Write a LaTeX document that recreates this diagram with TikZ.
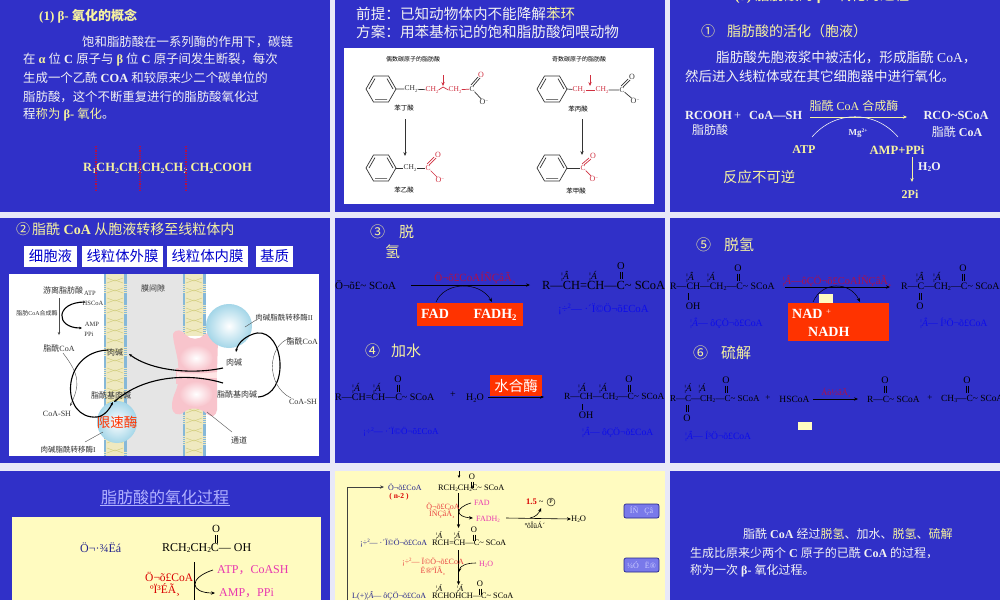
\documentclass[tikz,border=0pt]{standalone}
\usepackage{fontspec}
\usetikzlibrary{arrows.meta}
\setmainfont{Liberation Serif}
\newfontfamily\cjk{Noto Sans CJK SC}
\newcommand\Z[1]{{\cjk\mdseries #1}}
\newcommand\ZB[1]{{\cjk\bfseries #1}}
\newcommand\sbs[1]{\raisebox{-0.3ex}{\scalebox{0.62}{#1}}}
\newcommand\sps[1]{\raisebox{0.7ex}{\scalebox{0.62}{#1}}}
\newcommand\tld{\char126 }
\definecolor{panelblue}{HTML}{3030C8}
\definecolor{pagebg}{HTML}{E8E8F8}
\definecolor{wht}{HTML}{F2F2F2}
\definecolor{ylw}{HTML}{F6F2A0}
\definecolor{cream}{HTML}{FFFBC0}
\definecolor{redbox}{HTML}{FF3300}
\definecolor{dkred}{HTML}{B01048}
\definecolor{bluet}{HTML}{0C0CEA}
\definecolor{navy}{HTML}{24248C}
\definecolor{mag}{HTML}{E838B0}
\definecolor{salmon}{HTML}{E84040}
\definecolor{chemred}{HTML}{D03040}
\definecolor{grayt}{HTML}{404040}
\definecolor{ballblue}{HTML}{A4D6E8}
\definecolor{membr}{HTML}{EFE9C0}
\definecolor{membe}{HTML}{86B8D8}
\definecolor{chanpink}{HTML}{F8C4CC}
\tikzset{
  t/.style={inner sep=0pt,font=\fontsize{#1}{#1}\selectfont},
  b/.style={inner sep=0pt,font=\fontsize{#1}{#1}\selectfont\bfseries},
  ar/.style={-{Stealth[length=4pt,width=3.4pt]}},
  smallar/.style={-{Stealth[length=3pt,width=2.6pt]}},
  chem/.style={line width=0.7pt,draw=black!80},
  thickc/.style={line width=1.1pt,draw=black},
  thinc/.style={line width=0.4pt,draw=black!70},
  btn/.style={draw=navy,fill=blue!35!panelblue!60!white,rounded corners=2pt,line width=0.7pt,text=blue!20!white,inner sep=0pt,minimum width=35pt,minimum height=14pt,font=\fontsize{8}{8}\selectfont},
  redlab/.style={fill=redbox,inner sep=0pt},
}
\newcommand\benz[2]{\begin{scope}[shift={(#1,#2)}]
  \draw[chem] (0:15)--(60:15)--(120:15)--(180:15)--(240:15)--(300:15)--cycle;
  \draw[chem] (60:12)--(120:12) (180:12)--(240:12) (300:12)--(0:12);
\end{scope}}
\newcommand\carb[4]{% x y size colour : O above a double bond
  \node[t=#3,text=#4,anchor=center] at (#1,#2) {O};
  \draw[#4,line width=0.5pt] (#1-1.2,#2+#3*0.55) -- (#1-1.2,#2+#3*1.25) (#1+1.2,#2+#3*0.55) -- (#1+1.2,#2+#3*1.25);
}
\begin{document}
\begin{tikzpicture}[x=1pt,y=-1pt]
\useasboundingbox (0,0) rectangle (1000,600);
\fill[pagebg] (0,0) rectangle (1000,600);
% panels
\fill[panelblue] (0,0) rectangle (330,212);
\fill[panelblue] (335,0) rectangle (665,212);
\fill[panelblue] (670,0) rectangle (1000,212);
\fill[panelblue] (0,218) rectangle (330,463);
\fill[panelblue] (335,218) rectangle (665,463);
\fill[panelblue] (670,218) rectangle (1000,463);
\fill[panelblue] (0,471) rectangle (330,600);
\fill[cream] (335,471) rectangle (665,600);
\fill[panelblue] (670,471) rectangle (1000,600);

% ---------- panel 1
\node[b=13,text=ylw,anchor=west] (p1title) at (39,16) {(1) β- \ZB{氧化的概念}};
\node[b=12.4,text=wht,anchor=west] (p1a) at (82,42) {\Z{饱和脂肪酸在一系列酶的作用下，碳链}};
\node[b=12.4,text=wht,anchor=west] (p1b) at (23,60) {\Z{在} \textcolor{ylw}{α} \Z{位} C \Z{原子与} \textcolor{ylw}{β} \Z{位} C \Z{原子间发生断裂，每次}};
\node[b=12.4,text=wht,anchor=west] (p1c) at (23,78) {\Z{生成一个乙酰} COA \Z{和较原来少二个碳单位的}};
\node[b=12.4,text=wht,anchor=west] (p1d) at (23,97) {\Z{脂肪酸，这个不断重复进行的脂肪酸氧化过}};
\node[b=12.4,text=wht,anchor=west] (p1e) at (23,115) {\Z{程}\textcolor{ylw}{\Z{称为} β- \Z{氧化}}\Z{。}};
\node[b=12.6,text=ylw,anchor=west] (p1f) at (83,168) {R\sbs{1}CH\sbs{2}CH\sbs{2}CH\sbs{2}CH\sbs{2} CH\sbs{2}COOH};
\foreach \xx in {96,140,186}
  \draw[dkred,line width=1.1pt,dash pattern=on 1.1pt off 1.1pt] (\xx,146) -- (\xx,192);

% ---------- panel 2
\node[t=14.6,text=wht,anchor=west] (p2a) at (356,14) {\Z{前提：已知动物体内不能降解\textcolor{ylw}{苯环}}};
\node[t=14.6,text=wht,anchor=west] (p2b) at (356,32) {\Z{方案：用苯基标记的饱和脂肪酸饲喂动物}};
\fill[white] (344,48) rectangle (654,204);
\node[t=6,anchor=center] (ev) at (413,59) {\Z{偶数碳原子的脂肪酸}};
\node[t=6,anchor=center] (od) at (579,59) {\Z{奇数碳原子的脂肪酸}};
\benz{381}{89}\benz{381}{168}\benz{552}{89}\benz{552}{168}
% butyrate
\node[t=7.5,text=black!80] (a1) at (411,89) {CH\sbs{2}};
\node[t=7.5,text=chemred] (a2) at (432,90) {CH\sbs{2}};
\node[t=7.5,text=chemred] (a3) at (455,90) {CH\sbs{2}};
\node[t=7.5,text=black!80] (a4) at (472,89) {C};
\node[t=8,text=chemred] (a5) at (481,75) {O};
\node[t=8,text=black!80] (a6) at (484,102) {O\sps{−}};
\draw[chem] (396,89)--(a1) (a1)--(a2);
\draw[chem] (a4)--(a6);
\draw[chemred,line width=0.7pt] (a2.east)--(443,87)--(a3.west) (a3)--(a4);
\draw[chem] (473,86)--(480,78) (471,85)--(478,77);
\draw[chemred,ar,line width=0.7pt] (443,75)--(443,86);
\node[t=6.5] (lb1) at (404,108) {\Z{苯丁酸}};
\node[t=6.5] (lb2) at (404,190) {\Z{苯乙酸}};
\draw[chem,ar] (405,119)--(405,156);
% phenylacetate
\node[t=7.5,text=black!80] (b1) at (410,168) {CH\sbs{2}};
\node[t=7.5,text=chemred] (b2) at (428,168) {C};
\node[t=8,text=chemred] (b3) at (438,155) {O};
\node[t=8,text=chemred] (b4) at (440,180) {O\sps{−}};
\draw[chem] (396,168)--(b1) (b1)--(b2);
\draw[chemred,line width=0.7pt] (b2)--(b4) (429,165)--(436,158) (427,164)--(434,157);
% propionate
\node[t=7.5,text=chemred] (c1) at (579,90) {CH\sbs{2}};
\node[t=7.5,text=chemred] (c2) at (602,90) {CH\sbs{2}};
\node[t=7.5,text=black!80] (c3) at (622,90) {C};
\node[t=8,text=black!80] (c4) at (632,77) {O};
\node[t=8,text=black!80] (c5) at (635,101) {O\sps{−}};
\draw[chem] (567,89)--(c1) (c2)--(c3) (c3)--(c5) (623,87)--(630,80) (621,86)--(628,79);
\draw[chemred,line width=0.7pt] (c1)--(c2);
\draw[chemred,ar,line width=0.7pt] (590,75)--(590,86);
\node[t=6.5] (lb3) at (578,109) {\Z{苯丙酸}};
\node[t=6.5] (lb4) at (576,191) {\Z{苯甲酸}};
\draw[chem,ar] (582,119)--(582,155);
% benzoate
\node[t=7.5,text=chemred] (d1) at (583,168) {C};
\node[t=8,text=chemred] (d2) at (593,156) {O};
\node[t=8,text=chemred] (d3) at (594,179) {O\sps{−}};
\draw[chem] (567,168)--(d1);
\draw[chemred,line width=0.7pt] (d1)--(d3) (584,165)--(591,159) (582,164)--(589,158);

% ---------- panel 3
\node[t=14.5,text=ylw,anchor=center] (p3t) at (822,-4) {\textbf{(3)} \Z{脂肪酸的} \textbf{β -} \Z{氧化的过程}};
\node[t=14,text=ylw,anchor=west] (p3a) at (701,31) {\Z{①\hspace{12pt}脂肪酸的活化（胞液）}};
\node[t=13.6,text=wht,anchor=west] (p3b) at (716,57) {\Z{脂肪酸先胞液浆中被活化，形成脂酰} CoA\Z{，}};
\node[t=13.5,text=wht,anchor=west] (p3c) at (685,76) {\Z{然后进入线粒体或在其它细胞器中进行氧化。}};
\node[b=12.4,text=wht,anchor=west] (rc) at (685,115) {RCOOH\,\textmd{+}};
\node[b=12.4,text=wht,anchor=west] (cs) at (749,115) {CoA—SH};
\node[t=12,text=wht,anchor=center] (fa) at (710,130) {\Z{脂肪酸}};
\coordinate (enzS) at (810,117); \coordinate (enzE) at (907,117);
\draw[ylw,ar,line width=0.7pt] (enzS)--(enzE);
\node[t=12,text=ylw,anchor=center] (en) at (854,106) {\Z{脂酰} CoA \Z{合成酶}};
\draw[wht,line width=0.6pt] (812,137) .. controls (835,110) and (875,110) .. (898,137);
\node[b=9,text=wht] (mg) at (858,133) {Mg\sps{2+}};
\node[b=12,text=ylw] (atp) at (804,150) {ATP};
\node[b=12.6,text=ylw] (amp) at (897,150) {AMP+PPi};
\node[b=12,text=ylw] (pi2) at (910,194) {2Pi};
\draw[ylw,ar,line width=0.7pt] (912,157)--(912,182);
\node[b=12,text=wht,anchor=west] (h2o) at (918,167) {H\sbs{2}O};
\node[t=14.4,text=ylw,anchor=west] (irr) at (723,177) {\Z{反应不可逆}};
\node[b=12.4,text=wht] (rs) at (956,115) {RCO\tld SCoA};
\node[t=12,text=wht] (rs2) at (957,132) {\Z{脂酰} \textbf{CoA}};

% ---------- panel 4
\node[t=14,text=ylw,anchor=west] (p4t) at (16,229) {\Z{②\hspace{2pt}脂酰} \textbf{CoA} \Z{从胞液转移至线粒体内}};
\foreach \xa/\xb/\nm/\lbl in {24/77/q1/细胞液,82/163/q2/线粒体外膜,167/248/q3/线粒体内膜,256/293/q4/基质}
  \node[fill=white,inner sep=0pt,minimum width=\xb pt-\xa pt,minimum height=21pt,text=blue!80!black,font=\fontsize{14.4}{14.4}\selectfont\cjk] (\nm) at ({(\xa+\xb)/2},256.5) {\lbl};
\fill[white] (9,274) rectangle (319,456);
\fill[black!10] (126,274) rectangle (183,456);
% membranes
\foreach \xa/\ya/\yb in {104/274/456,183/274/336,183/405/456}{
  \fill[membr] (\xa,\ya) rectangle (\xa+22.5,\yb);
  \draw[membe,line width=2.4pt,dash pattern=on 1.6pt off 0.5pt] (\xa+1,\ya)--(\xa+1,\yb) (\xa+21.5,\ya)--(\xa+21.5,\yb);
}
\foreach \yy in {278,288,...,456}{
  \draw[olive!40,line width=0.5pt] (107,\yy) -- (115,\yy+3) -- (123,\yy);
  \draw[olive!40,line width=0.5pt] (107,\yy+5) -- (115,\yy+2) -- (123,\yy+5);
}
\foreach \yy in {278,288,...,330,408,418,...,450}{
  \draw[olive!40,line width=0.5pt] (186,\yy) -- (194,\yy+3) -- (202,\yy);
  \draw[olive!40,line width=0.5pt] (186,\yy+5) -- (194,\yy+2) -- (202,\yy+5);
}
% channel
\fill[chanpink] (176,368) rectangle (217,384);
\fill[red!10!white] (177,372) rectangle (217,378);
\path[fill=chanpink] (173,334) .. controls (176,328) and (182,330) .. (186,335) .. controls (190,340) and (200,340) .. (204,335) .. controls (208,331) and (214,333) .. (218,340) -- (217,372) .. controls (200,374) and (185,374) .. (178,372) .. controls (180,360) and (173,345) .. (173,334) -- cycle;
\path[fill=chanpink] (178,381) .. controls (190,376) and (205,378) .. (217,382) -- (217,410) .. controls (216,416) and (212,418) .. (207,414) .. controls (200,407) and (190,407) .. (184,412) .. controls (178,417) and (172,414) .. (172,406) .. controls (172,395) and (178,390) .. (178,381) -- cycle;
\shade[inner color=white,outer color=chanpink] (196,358) ellipse (17 and 13);
\shade[inner color=white,outer color=chanpink] (196,394) ellipse (17 and 13);
\shade[inner color=white,outer color=ballblue] (229,326) ellipse (23 and 22);
\shade[inner color=white,outer color=ballblue] (117,422) ellipse (20 and 21);
\tikzset{lbl/.style={t=#1,text=black!80}}
\node[lbl=8] (y1) at (63,290) {\Z{游离脂肪酸}};
\node[lbl=6.5] (y2) at (90,293) {ATP};
\node[lbl=6.5] (y3) at (93,303) {HSCoA};
\node[lbl=6] (y4) at (37,313) {\Z{脂肪}CoA\Z{合成酶}};
\node[lbl=6.5] (y5) at (92,324) {AMP};
\node[lbl=6.5] (y6) at (89,334) {PPi};
\node[lbl=8] (y7) at (59,348) {\Z{脂酰}CoA};
\node[lbl=8] (y8) at (115,352) {\Z{肉碱}};
\node[lbl=8] (y9) at (153,288) {\Z{膜间隙}};
\node[lbl=7.5] (y10) at (284,318) {\Z{肉碱脂酰转移酶}II};
\node[lbl=8,anchor=east] (y11) at (318,341) {\Z{脂酰}CoA};
\node[lbl=8] (y12) at (234,362) {\Z{肉碱}};
\node[lbl=8] (y13) at (237,394) {\Z{脂酰基肉碱}};
\node[lbl=8] (y14) at (111,395) {\Z{脂酰基肉碱}};
\node[lbl=8] (y15) at (57,414) {CoA-SH};
\node[lbl=8] (y16) at (303,402) {CoA-SH};
\node[lbl=8] (y17) at (239,440) {\Z{通道}};
\node[lbl=7.5] (y18) at (68,450) {\Z{肉碱脂酰转移酶}I};
\node[t=13.5,text=redbox] (y19) at (117,422) {\Z{限速酶}};
% connectors
\draw[thinc,smallar] (59,298)--(59,335);
\draw[thickc,smallar] (85,302) .. controls (55,302) and (55,328) .. (82,328);
\draw[thinc,smallar] (63,353) .. controls (80,375) and (80,385) .. (70,406);
\draw[thickc,smallar] (108,350) .. controls (60,352) and (60,420) .. (97,417) .. controls (105,416) and (110,408) .. (113,402);
\draw[thickc,smallar] (223,368) .. controls (190,375) and (150,370) .. (129,354);
\draw[thickc,smallar] (223,383) .. controls (190,373) and (145,375) .. (114,402);
\draw[thickc,smallar] (258,397) .. controls (290,395) and (285,330) .. (257,333) .. controls (247,335) and (238,342) .. (236,352);
\draw[thinc,smallar] (291,398) .. controls (265,385) and (268,345) .. (291,338);
\draw[thinc] (245,327)--(256,320) (85,442)--(103,432) (207,412)--(232,432);

% ---------- panel 5
\node[t=15,text=ylw,anchor=west] (p5a) at (370,232) {\Z{③\hspace{14pt}脱}};
\node[t=15,text=ylw,anchor=west] (p5b) at (385,252) {\Z{氢}};
\node[t=11,anchor=west] (s1) at (335,285) {Ö¬õ£\tld\ SCoA};
\node[t=12.4,anchor=west] (s2) at (542,285) {R—CH=CH—C\tld\ SCoA};
\coordinate (s1e) at (411,285); \coordinate (s2w) at (530,285);
\draw[black,ar,line width=0.6pt] (s1e)--(s2w);
\node[t=11,text=dkred] (s3) at (475,278) {Ö¬õ£CoAÍÑÇâÃ¸};
\draw[black,ar,line width=0.5pt] (436,302) .. controls (445,281) and (480,281) .. (492,302);
\node[redlab,minimum width=106pt,minimum height=23pt] (s4) at (470,314.5) {};
\node[b=14,text=white] (s5) at (435,314) {FAD};
\node[b=14,text=white] (s6) at (495,315) {FADH\sbs{2}};
\carb{621}{266}{10.5}{black}
\node[t=9.5] (s7) at (565,276) {¦\textit{Â}};
\node[t=9.5] (s8) at (593,276) {¦\textit{Á}};
\node[t=10.8,text=bluet,anchor=west] (s9) at (558,309) {¡÷\sps{2}— ·´Ï©Ö¬õ£CoA};
\node[t=15,text=ylw,anchor=west] (p5c) at (365,351) {\Z{④\hspace{11pt}加水}};
\node[t=10,anchor=west] (s10) at (335,397) {R—CH=CH—C\tld\ SCoA};
\carb{398}{379}{10}{black}
\node[t=9.5] (s11) at (356,388) {¦\textit{Á}};
\node[t=9.5] (s12) at (377,388) {¦\textit{Á}};
\node[t=10] (s13) at (453,395) {+};
\node[t=10] (s14) at (475,398) {H\sbs{2}O};
\coordinate (s14e) at (488,397); \coordinate (s15w) at (544,397);
\draw[black,ar,line width=0.6pt] (s14e)--(s15w);
\node[redlab,minimum width=52pt,minimum height=21pt,text=white,font=\fontsize{14.5}{14.5}\selectfont\cjk] (s16) at (516,385.5) {水合酶};
\node[t=9.4,anchor=west] (s15) at (564,397) {R—CH—CH\sbs{2}—C\tld\ SCoA};
\carb{629}{379}{10}{black}
\node[t=9.5] (s17) at (582,388) {¦\textit{Á}};
\node[t=9.5] (s18) at (603,388) {¦\textit{Á}};
\draw[black,line width=0.5pt] (582,404)--(582,410);
\node[t=10] (s19) at (586,415) {OH};
\node[t=9,text=bluet,anchor=west] (s20) at (363,432) {¡÷\sps{2}— ·´Ï©Ö¬õ£CoA};
\node[t=9.6,text=bluet,anchor=west] (s21) at (582,432) {¦\textit{Â}— ôÇÖ¬õ£CoA};

% ---------- panel 6
\node[t=15,text=ylw,anchor=west] (p6a) at (696,245) {\Z{⑤\hspace{13pt}脱氢}};
\node[t=9.8,anchor=west] (u1) at (670,287) {R—CH—CH\sbs{2}—C\tld\ SCoA};
\carb{738}{268}{10}{black}
\node[t=9.5] (u2) at (690,277) {¦\textit{Â}};
\node[t=9.5] (u3) at (711,277) {¦\textit{Á}};
\draw[black,line width=0.5pt] (688,293)--(688,300);
\node[t=10] (u4) at (693,306) {OH};
\node[t=9.8,text=bluet,anchor=west] (u5) at (690,323) {¦\textit{Â}— ôÇÖ¬õ£CoA};
\coordinate (u1e) at (785,287); \coordinate (u6w) at (890,287);
\draw[black,ar,line width=0.6pt] (u1e)--(u6w);
\node[t=10.5,text=dkred] (u7) at (837,281) {¦\textit{Â}—ôÇÖ¬õ£CoAÍÑÇâÃ¸};
\node[redlab,minimum width=101pt,minimum height=38pt] (u8) at (838.5,322) {};
\fill[cream] (819,294) rectangle (833,303);
\draw[black,ar,line width=0.5pt] (813,302) .. controls (822,281) and (850,281) .. (860,302);
\node[b=14,text=white,anchor=west] (u9) at (792,314) {NAD \textmd{\sps{+}}};
\node[b=14,text=white,anchor=west] (u10) at (808,332) {NADH};
\node[t=9.9,anchor=west] (u6) at (901,287) {R—C—CH\sbs{2}—C\tld\ SCoA};
\carb{963}{268}{10}{black}
\node[t=9.5] (u11) at (920,277) {¦\textit{Â}};
\node[t=9.5] (u12) at (937,277) {¦\textit{Á}};
\draw[black,line width=0.5pt] (919,293)--(919,300) (921,293)--(921,300);
\node[t=10] (u13) at (920,306) {O};
\node[t=9.8,text=bluet,anchor=west] (u14) at (920,323) {¦\textit{Â}— Í³Ö¬õ£CoA};
\node[t=15,text=ylw,anchor=west] (p6b) at (693,353) {\Z{⑥\hspace{13pt}硫解}};
\node[t=9,anchor=west] (u15) at (670,399) {R—C—CH\sbs{2}—C\tld\ SCoA};
\carb{726}{380}{10}{black}
\node[t=9] (u16) at (688,389) {¦\textit{Á}};
\node[t=9] (u17) at (702,389) {¦\textit{Á}};
\draw[black,line width=0.5pt] (686,405)--(686,412) (688,405)--(688,412);
\node[t=10] (u18) at (687,418) {O};
\node[t=9] (u19) at (768,398) {+};
\node[t=9.5] (u20) at (794.5,399) {HSCoA};
\coordinate (u20e) at (813,399); \coordinate (u21w) at (858,399);
\draw[black,ar,line width=0.6pt] (u20e)--(u21w);
\node[t=8.5,text=dkred] (u22) at (836,393) {Áò½âÃ¸};
\node[t=9.4,anchor=west] (u21) at (867,399) {R—C\tld\ SCoA};
\carb{885}{380}{10}{black}
\node[t=9] (u23) at (930,398) {+};
\node[t=9.4,anchor=west] (u24) at (941,399) {CH\sbs{3}—C\tld\ SCoA};
\carb{967}{380}{10}{black}
\fill[cream] (798,422) rectangle (812,430);
\node[t=9.6,text=bluet,anchor=west] (u25) at (685,436) {¦\textit{Â}— Í³Ö¬õ£CoA};

% ---------- panel 7
\node[t=16,text=blue!30!white] (w1) at (165,497) {\Z{脂肪酸的氧化过程}};
\draw[blue!30!white,line width=0.5pt] (100,505.5)--(230,505.5);
\fill[cream] (12,517) rectangle (321,600);
\node[t=12,text=navy,anchor=west] (w2) at (80,548) {Ö¬·¾Ëá};
\node[t=12,anchor=west] (w3) at (162,548) {RCH\sbs{2}CH\sbs{2}C— OH};
\carb{216}{529}{11}{black}
\coordinate (w3s) at (194,562); \coordinate (w3e) at (194,600);
\draw[black,line width=0.7pt] (w3s)--(w3e);
\node[t=11.5,text=red!85!black,anchor=west] (w4) at (145,577) {Ö¬õ£CoA};
\node[t=11.5,text=red!85!black] (w5) at (165,590) {ºÏ³ÉÃ¸};
\node[t=12,text=mag,anchor=west] (w6) at (217,570) {ATP\Z{，}CoASH};
\node[t=12,text=mag,anchor=west] (w7) at (219,593) {AMP\Z{，}PPi};
\draw[black,ar,line width=0.7pt] (213,570) .. controls (188,578) and (190,593) .. (215,593);

% ---------- panel 8
\coordinate (v0) at (459,471); \coordinate (v0e) at (459,478);
\draw[black,smallar,line width=0.6pt] (v0)--(v0e);
\coordinate (lp0) at (347,600); \coordinate (lp1) at (347,487); \coordinate (lp2) at (384,487);
\draw[grayt,ar,line width=0.8pt] (lp0)--(lp1)--(lp2);
\node[t=8,text=navy,anchor=west] (x1) at (388,487.5) {Ö¬õ£CoA};
\node[b=7.5,text=red!85!black] (x2) at (399,497) {( n-2 )};
\node[t=8.3,anchor=west] (x3) at (438,488) {RCH\sbs{2}CH\sbs{2}C\tld\ SCoA};
\carb{472}{477}{8.5}{black}
\draw[black,ar,line width=0.6pt] (458.5,493)--(458.5,528);
\node[t=8,text=salmon] (x4) at (443,506) {Ö¬õ£CoA};
\node[t=8,text=salmon] (x5) at (442,514) {ÍÑÇâÃ¸};
\node[t=8,text=mag,anchor=west] (x6) at (474,503) {FAD};
\node[t=8,text=mag,anchor=west] (x7) at (476,519) {FADH\sbs{2}};
\draw[black,ar,line width=0.6pt] (471,503) .. controls (454,508) and (456,517) .. (473,518);
\coordinate (x8s) at (506,518);
\node[t=8.5,anchor=west] (x8) at (571,519) {H\sbs{2}O};
\draw[black,ar,line width=0.6pt] (x8s)--(x8.west);
\draw[black,ar,line width=0.6pt] (530,518) .. controls (536,517) and (539,513) .. (541,508);
\node[b=8.5,text=red!85!black,anchor=west] (x9) at (526,502) {1.5 \textmd{\textcolor{black}{\tld}}};
\node[draw=black,circle,inner sep=0pt,minimum size=8pt,line width=0.4pt,t=6,draw] (x10) at (551,502) {P};
\node[t=7.5] (x11) at (535,525) {ºôÎüÁ´};
\node[btn] (x12) at (641.5,511) {ÍÑ\ \ \ Çâ};
\node[btn] (x13) at (641.5,565) {¼Ó\ \ \ Ë®};
\node[t=8,text=navy,anchor=west] (x14) at (360,543) {¡÷\sps{2}— ·´Ï©Ö¬õ£CoA};
\node[t=8.3,anchor=west] (x15) at (432,543) {RCH=CH—C\tld\ SCoA};
\carb{474}{530}{8.5}{black}
\node[t=8] (x16) at (439,536) {¦\textit{Á}};
\node[t=8] (x17) at (457,536) {¦\textit{Á}};
\draw[black,ar,line width=0.6pt] (458.5,550)--(458.5,585);
\node[t=8,text=salmon] (x18) at (433,562) {¡÷\sps{2}— Ï©Ö¬õ£CoA};
\node[t=8,text=salmon] (x19) at (433,571) {Ë®ºÏÃ¸};
\node[t=8,text=mag,anchor=west] (x20) at (479,564) {H\sbs{2}O};
\draw[black,ar,line width=0.6pt] (476,563) .. controls (466,563) and (460,566) .. (459,572);
\node[t=8,text=navy,anchor=west] (x21) at (352,596) {L(+)¦\textit{Â}— ôÇÖ¬õ£CoA};
\node[t=8.3,anchor=west] (x22) at (432,596) {RCHOHCH—C\tld\ SCoA};
\carb{480}{584}{8.5}{black}
\node[t=8] (x23) at (439,589) {¦\textit{Á}};
\node[t=8] (x24) at (460,589) {¦\textit{Á}};

% ---------- panel 9
\node[b=12,text=wht,anchor=west] (z1) at (743,534) {\Z{脂酰} CoA \Z{经过\textcolor{ylw}{脱氢}、加水、\textcolor{ylw}{脱氢}、\textcolor{ylw}{硫解}}};
\node[b=12,text=wht,anchor=west] (z2) at (690,553) {\Z{生成比原来少两个} C \Z{原子的已酰} CoA \Z{的过程，}};
\node[b=12,text=wht,anchor=west] (z3) at (690,571) {\Z{称为一次} β- \Z{氧化过程。}};
\end{tikzpicture}
\end{document}
